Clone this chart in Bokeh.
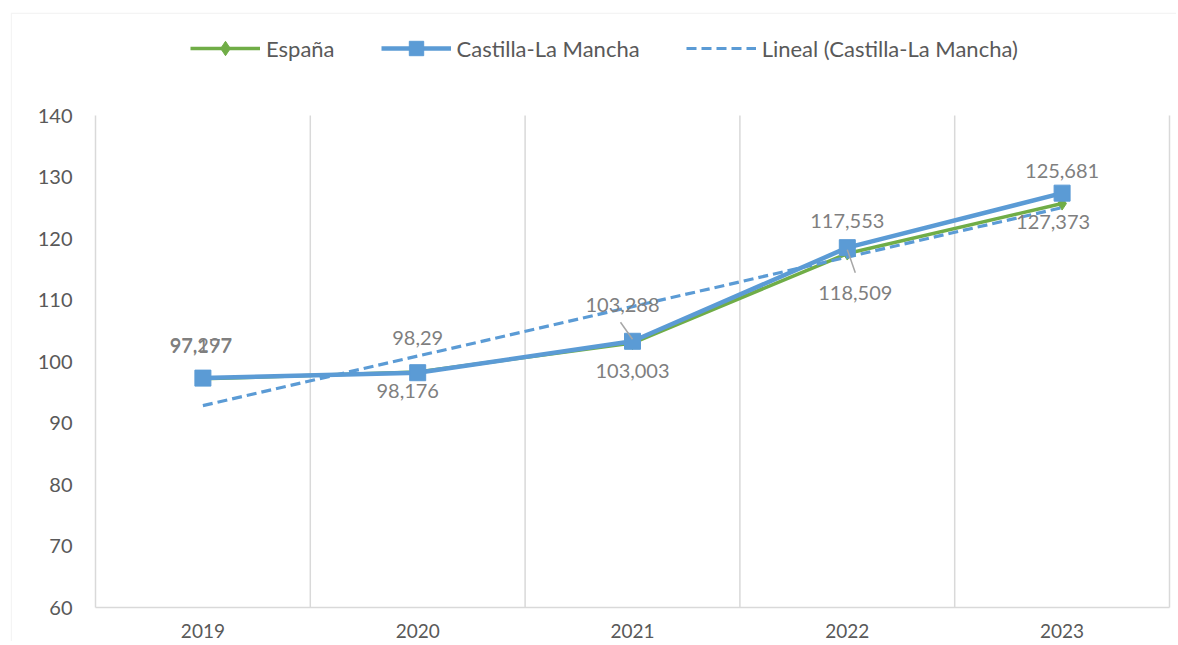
import numpy as np
from bokeh.plotting import figure
from bokeh.models import Range1d, FixedTicker, Legend, LegendItem, BoxAnnotation
from bokeh.core.properties import value
from bokeh.embed import file_html
from bokeh.resources import INLINE

# ---- data ----
years = ["2019", "2020", "2021", "2022", "2023"]
espana = [97.177, 98.29, 103.003, 117.553, 125.681]
clm = [97.297, 98.176, 103.288, 118.509, 127.373]
y_ticks = [60, 70, 80, 90, 100, 110, 120, 130, 140]

x = list(range(1, len(years) + 1))
coef = np.polyfit(x, clm, 1)
trend = [float(v) for v in np.polyval(coef, x)]

def fmt(v):
    return str(v).replace(".", ",")

esp_labels = [fmt(v) for v in espana]
clm_labels = [fmt(v) for v in clm]

# label offsets (px)
esp_dx = [-2, 0, 0, 0, 0]
esp_dy = [-33, -34, 28, -33, -33]
clm_dx = [-2, -10, -10, 8, -9]
clm_dy = [-33, 18, -36, 45, 29]

# ---- layout (pixels on canvas) ----
W, H = 1176, 641
FRAME_L, FRAME_T = 10, 12          # chart-area border corner
PLOT_L, PLOT_R = 95, 1169          # plot area left/right
PLOT_T, PLOT_B = 115, 607          # plot area top/bottom

n = len(years)
ymin, ymax = min(y_ticks), max(y_ticks)
px_x = (PLOT_R - PLOT_L) / n
px_y = (PLOT_B - PLOT_T) / (ymax - ymin)
x_lo = 0.5 - (PLOT_L - FRAME_L) / px_x
x_hi = n + 0.5 + (W - PLOT_R) / px_x
y_hi = ymax + (PLOT_T - FRAME_T) / px_y
y_lo = ymin - (H - PLOT_B) / px_y

GREEN = "#70AD47"
BLUE = "#5B9BD5"
TXT = "#595959"
LBL = "#7f7f7f"
GRID = "#d9d9d9"

p = figure(width=W, height=H, output_backend="svg", toolbar_location=None,
           x_range=Range1d(x_lo, x_hi), y_range=Range1d(y_lo, y_hi),
           min_border_left=FRAME_L, min_border_right=0, min_border_top=FRAME_T,
           min_border_bottom=0)
p.outline_line_color = None
p.background_fill_color = "white"
p.border_fill_color = "white"
p.grid.visible = False

# chart-area border (only left/top edges show)
p.add_layout(BoxAnnotation(left=x_lo + 0.8 / px_x, top=y_hi - 0.8 / px_y,
                           right=x_hi + 10, bottom=y_lo - 10,
                           fill_alpha=0, line_color=GRID, line_width=1.5,
                           level="underlay"))

# vertical category separators
bounds = [i + 0.5 for i in range(n + 1)]
p.segment(bounds, [ymin] * len(bounds), bounds, [ymax] * len(bounds),
          line_color=GRID, line_width=1.5)

p.xaxis.fixed_location = ymin
p.xaxis.bounds = (0.5, n + 0.5)
p.xaxis.ticker = FixedTicker(ticks=x)
p.xaxis.major_label_overrides = {i: yv for i, yv in zip(x, years)}
p.xaxis.axis_line_color = GRID
p.xaxis.axis_line_width = 1.5
p.xaxis.major_tick_line_color = None
p.xaxis.minor_tick_line_color = None
p.xaxis.major_label_text_font = "Lato"
p.xaxis.major_label_text_font_size = "19px"
p.xaxis.major_label_text_color = TXT
p.xaxis.major_label_standoff = 10

p.yaxis.fixed_location = 0.5
p.yaxis.ticker = FixedTicker(ticks=y_ticks)
p.yaxis.axis_line_color = None
p.yaxis.major_tick_line_color = None
p.yaxis.minor_tick_line_color = None
p.yaxis.major_label_text_font = "Lato"
p.yaxis.major_label_text_font_size = "20px"
p.yaxis.major_label_text_color = TXT
p.yaxis.major_label_standoff = 17

g_line = p.line(x, espana, line_color=GREEN, line_width=3.5)
g_mark = p.scatter(x, espana, marker="diamond", size=13, color=GREEN)
t_line = p.line(x, trend, line_color=BLUE, line_width=3.2, line_dash="10 5")
b_line = p.line(x, clm, line_color=BLUE, line_width=4.5)
b_mark = p.scatter(x, clm, marker="square", size=16, color=BLUE)

# leader lines for moved labels (index, dx0, dy0, dx1, dy1) in px from point
leaders = [(2, -12, -19, 0, -2), (3, 0, 2, 8, 25)]
x0s, y0s, x1s, y1s = [], [], [], []
for i, dx0, dy0, dx1, dy1 in leaders:
    x0s.append(x[i] + dx0 / px_x)
    y0s.append(clm[i] - dy0 / px_y)
    x1s.append(x[i] + dx1 / px_x)
    y1s.append(clm[i] - dy1 / px_y)
p.segment(x0s, y0s, x1s, y1s, line_color="#a6a6a6", line_width=1.5)

common = dict(text_align="center", text_baseline="middle",
              text_font=value("Lato"), text_font_size="20px", text_color=LBL)
p.text(x=x, y=espana, text=esp_labels, x_offset=esp_dx, y_offset=esp_dy, **common)
p.text(x=x, y=clm, text=clm_labels, x_offset=clm_dx, y_offset=clm_dy, **common)

LEG_L, LEG_T, LEG_H = 190, 30, 36
legend = Legend(items=[
    LegendItem(label="España", renderers=[g_line, g_mark]),
    LegendItem(label="Castilla-La Mancha", renderers=[b_line, b_mark]),
    LegendItem(label="Lineal (Castilla-La Mancha)", renderers=[t_line]),
], orientation="horizontal", location=(LEG_L - FRAME_L, H - LEG_T - LEG_H))
legend.padding = 0
legend.margin = 0
legend.border_line_color = None
legend.background_fill_alpha = 0
legend.glyph_width = 70
legend.glyph_height = LEG_H
legend.label_height = 22
legend.label_standoff = 6
legend.spacing = 46
legend.label_text_font = "Lato"
legend.label_text_font_size = "22px"
legend.label_text_color = TXT
p.add_layout(legend, "center")

open("out.html", "w").write(file_html(p, INLINE))
